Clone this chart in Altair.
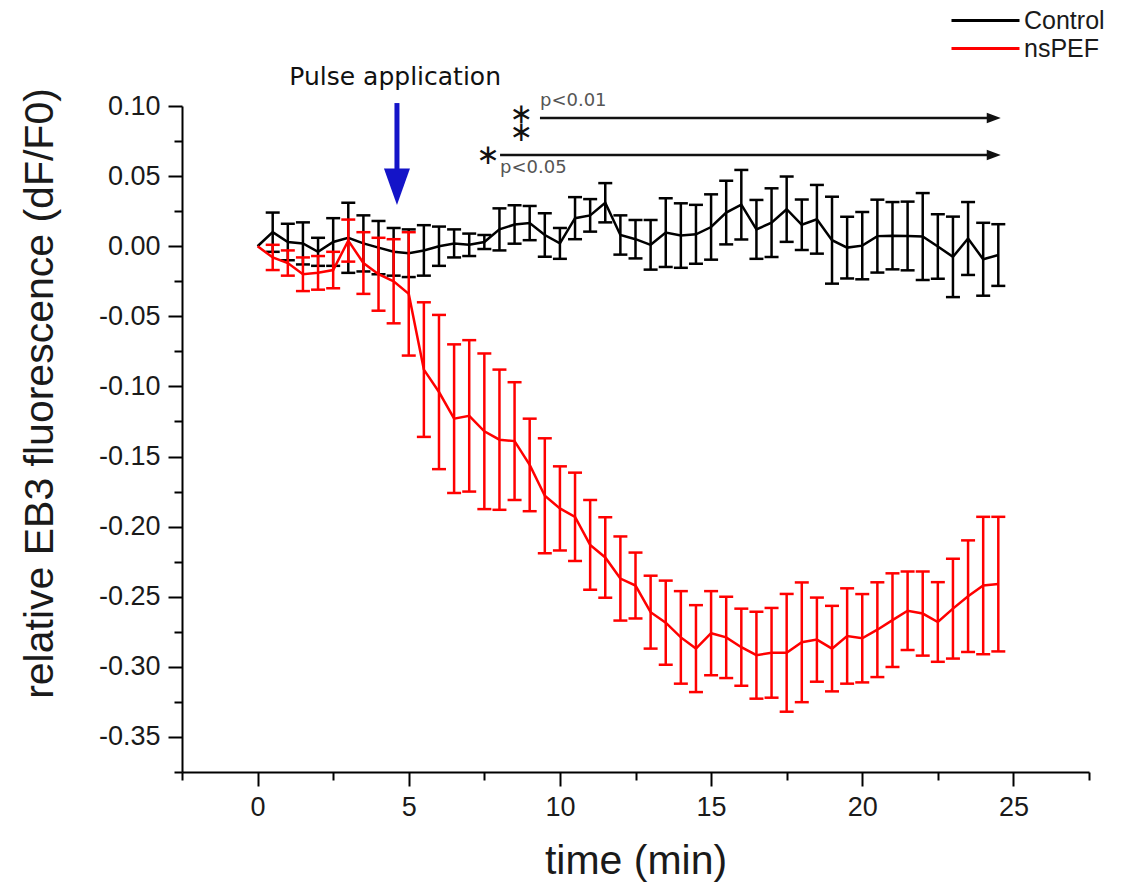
import altair as alt
import pandas as pd

# ---------------- data ----------------
times = [0.0, 0.5, 1.0, 1.5, 2.0, 2.5, 3.0, 3.5, 4.0, 4.5,
         5.0, 5.5, 6.0, 6.5, 7.0, 7.5, 8.0, 8.5, 9.0, 9.5,
         10.0, 10.5, 11.0, 11.5, 12.0, 12.5, 13.0, 13.5, 14.0, 14.5,
         15.0, 15.5, 16.0, 16.5, 17.0, 17.5, 18.0, 18.5, 19.0, 19.5,
         20.0, 20.5, 21.0, 21.5, 22.0, 22.5, 23.0, 23.5, 24.0, 24.5]

ctrl_mean = [0.0, 0.010, 0.003, 0.002, -0.004, 0.003, 0.006, 0.002, -0.001, -0.004,
             -0.005, -0.003, 0.000, 0.002, 0.001, 0.003, 0.012, 0.0155, 0.0165, 0.008,
             0.002, 0.020, 0.022, 0.031, 0.008, 0.005, 0.001, 0.0097, 0.0076, 0.0085,
             0.0137, 0.024, 0.0296, 0.012, 0.0168, 0.0264, 0.0153, 0.0192, 0.0043, -0.001,
             0.0004, 0.0072, 0.0075, 0.0073, 0.0069, -0.0002, -0.0076, 0.0055, -0.0093, -0.0063]
ctrl_err = [0.0, 0.014, 0.013, 0.015, 0.010, 0.017, 0.025, 0.020, 0.019, 0.017,
            0.017, 0.018, 0.014, 0.010, 0.008, 0.005, 0.015, 0.0137, 0.0122, 0.0155,
            0.011, 0.015, 0.0116, 0.014, 0.014, 0.0137, 0.0177, 0.0245, 0.023, 0.021,
            0.0233, 0.0227, 0.0248, 0.021, 0.0245, 0.0233, 0.018, 0.0245, 0.031, 0.022,
            0.024, 0.026, 0.024, 0.0245, 0.031, 0.023, 0.0287, 0.026, 0.026, 0.022]

pef_mean = [0.0, -0.008, -0.012, -0.020, -0.019, -0.017, 0.004, -0.012, -0.020, -0.025,
            -0.034, -0.088, -0.104, -0.123, -0.121, -0.132, -0.138, -0.139, -0.156, -0.178,
            -0.187, -0.193, -0.213, -0.222, -0.237, -0.242, -0.261, -0.2685, -0.279, -0.287,
            -0.276, -0.279, -0.286, -0.2917, -0.290, -0.290, -0.2825, -0.2806, -0.287, -0.278,
            -0.2796, -0.2735, -0.2667, -0.260, -0.262, -0.268, -0.2585, -0.2496, -0.242, -0.241]
pef_err = [0.0, 0.009, 0.009, 0.012, 0.012, 0.013, 0.015, 0.022, 0.026, 0.030,
           0.044, 0.048, 0.055, 0.053, 0.054, 0.0555, 0.050, 0.042, 0.033, 0.041,
           0.030, 0.0315, 0.032, 0.0287, 0.030, 0.0235, 0.026, 0.030, 0.033, 0.031,
           0.030, 0.029, 0.0275, 0.031, 0.032, 0.042, 0.0427, 0.030, 0.0305, 0.034,
           0.0315, 0.0338, 0.0334, 0.028, 0.030, 0.0284, 0.0356, 0.0398, 0.049, 0.048]

series_names = ["Control", "nsPEF"]
series_colors = ["#000000", "#ff0000"]

x_ticks = [-2.5, 0, 2.5, 5, 7.5, 10, 12.5, 15, 17.5, 20, 22.5, 25, 27.5]
y_ticks = [-0.375, -0.35, -0.325, -0.3, -0.275, -0.25, -0.225, -0.2, -0.175, -0.15,
           -0.125, -0.1, -0.075, -0.05, -0.025, 0.0, 0.025, 0.05, 0.075, 0.1]

# annotations (data coordinates)
pulse_text = ["Pulse application"]
pulse_text_pos = [4.55, 0.1207]
pulse_arrow_x = [4.61]
pulse_shaft_y = [0.1021, 0.050]
pulse_head_y = [0.0424]
sig_y = [0.0914, 0.065]
sig_x_start = [9.34, 8.02]
sig_x_end = [24.35, 24.35]
star_text = ["∗\n∗", "∗"]
star_x = [8.72, 7.62]
star_y = [0.0937, 0.0643]
p_text = ["p<0.01", "p<0.05"]
p_x = [9.34, 8.02]
p_y = [0.1036, 0.0558]

# ---------------- tables ----------------
rows = []
for name, means, errs in [("Control", ctrl_mean, ctrl_err), ("nsPEF", pef_mean, pef_err)]:
    for t, m, e in zip(times, means, errs):
        rows.append({"time": t, "series": name, "mean": m, "err": e, "lo": m - e, "hi": m + e})
df = pd.DataFrame(rows)

FONT = "Liberation Sans"
major_x = "datum.value % 5 === 0"
major_y = "abs(datum.value*20 - round(datum.value*20)) < 1e-6"

xs = alt.Scale(domain=[-2.5, 27.5], nice=False, zero=False)
ys = alt.Scale(domain=[-0.375, 0.1], nice=False, zero=False)

x_axis = alt.Axis(
    values=x_ticks, title="time (min)", grid=False,
    labelExpr=f"{major_x} ? datum.label : ''",
    tickSize={"condition": {"test": major_x, "value": 14}, "value": 8},
    domainColor="black", domainWidth=2, tickColor="black", tickWidth=2,
    labelFont=FONT, labelFontSize=27, labelColor="#1a1a1a", labelPadding=8,
    titleFont=FONT, titleFontSize=41, titleFontWeight="normal", titleColor="#1a1a1a",
    titleBaseline="middle", titleY=89,
)
y_axis = alt.Axis(
    values=y_ticks, title="relative EB3 fluorescence (dF/F0)", grid=False,
    labelExpr=f"{major_y} ? replace(format(datum.value, '.2f'), '−', '-') : ''",
    tickSize={"condition": {"test": major_y, "value": 14}, "value": 8},
    domainColor="black", domainWidth=2, tickColor="black", tickWidth=2,
    labelFont=FONT, labelFontSize=27, labelColor="#1a1a1a", labelPadding=8,
    titleFont=FONT, titleFontSize=41, titleFontWeight="normal", titleColor="#1a1a1a",
    titleBaseline="middle", titleAlign="center", titleAngle=270, titleX=-142, titleY=287,
)


def X(field):
    return alt.X(f"{field}:Q", scale=xs, axis=x_axis)


def Y(field):
    return alt.Y(f"{field}:Q", scale=ys, axis=y_axis)


color_enc = alt.Color(
    "series:N",
    scale=alt.Scale(domain=series_names, range=series_colors),
    legend=alt.Legend(
        title=None, orient="none", legendX=791, legendY=-98, padding=0,
        symbolType="M-5,0L5,0", symbolSize=185, symbolStrokeWidth=3,
        labelFont=FONT, labelFontSize=25, labelColor="#1a1a1a", labelOffset=26,
        rowPadding=2, labelLimit=300,
    ),
)


def series_layers(name, color):
    d = df[(df.series == name)]
    derr = d[d.err > 0]
    bars = alt.Chart(derr).mark_rule(strokeWidth=2.5, color=color).encode(
        x=X("time"), y=Y("lo"), y2="hi")
    cap_lo = alt.Chart(derr).mark_tick(orient="horizontal", size=14, thickness=2.5,
                                        color=color, opacity=1).encode(x=X("time"), y=Y("lo"))
    cap_hi = alt.Chart(derr).mark_tick(orient="horizontal", size=14, thickness=2.5,
                                        color=color, opacity=1).encode(x=X("time"), y=Y("hi"))
    line = alt.Chart(d).mark_line(strokeWidth=2.5).encode(
        x=X("time"), y=Y("mean"), color=color_enc)
    return [bars, cap_lo, cap_hi, line]


# annotation layers
pulse_df = pd.DataFrame({"x": [pulse_text_pos[0]], "y": [pulse_text_pos[1]], "text": pulse_text})
pulse_label = alt.Chart(pulse_df).mark_text(
    font="DejaVu Sans", fontSize=25, color="#111111", align="center", baseline="middle"
).encode(x=X("x"), y=Y("y"), text="text:N")

shaft_df = pd.DataFrame({"x": pulse_arrow_x, "y": [pulse_shaft_y[0]], "y2": [pulse_shaft_y[1]]})
shaft = alt.Chart(shaft_df).mark_rule(color="#1414c8", strokeWidth=5).encode(
    x=X("x"), y=Y("y"), y2="y2")
head_df = pd.DataFrame({"x": pulse_arrow_x, "y": pulse_head_y})
head = alt.Chart(head_df).mark_point(
    shape="M-1,-1.4L1,-1.4L0,1.4Z", size=676, filled=True, color="#1414c8",
    opacity=1, strokeWidth=0
).encode(x=X("x"), y=Y("y"))

sig_df = pd.DataFrame({"x": sig_x_start, "x2": sig_x_end, "y": sig_y})
sig_lines = alt.Chart(sig_df).mark_rule(color="#111111", strokeWidth=2.5).encode(
    x=X("x"), x2="x2", y=Y("y"))
sig_heads = alt.Chart(sig_df).mark_point(
    shape="M-1,-0.75L1,0L-1,0.75Z", size=196, filled=True, color="#111111",
    opacity=1, strokeWidth=0
).encode(x=X("x2"), y=Y("y"))

star_df = pd.DataFrame({"x": star_x, "y": star_y, "text": star_text})
stars = alt.Chart(star_df).mark_text(
    font="DejaVu Sans", fontSize=28, color="#111111", align="center", baseline="middle",
    lineBreak="\n", lineHeight=18
).encode(x=X("x"), y=Y("y"), text="text:N")

p_df = pd.DataFrame({"x": p_x, "y": p_y, "text": p_text})
p_labels = alt.Chart(p_df).mark_text(
    font="DejaVu Sans", fontSize=18, color="#555555", align="left", baseline="middle"
).encode(x=X("x"), y=Y("y"), text="text:N")

layers = (series_layers("Control", "#000000") + series_layers("nsPEF", "#ff0000")
          + [pulse_label, shaft, head, sig_lines, sig_heads, stars, p_labels])

chart = alt.layer(*layers).properties(
    width=907, height=666,
    autosize=alt.AutoSizeParams(type="none"),
    padding={"left": 174, "top": 98, "right": 27, "bottom": 112},
    background="white",
).configure_view(stroke=None)

chart.save("out.html", embed_options={"renderer": "svg", "actions": False})
